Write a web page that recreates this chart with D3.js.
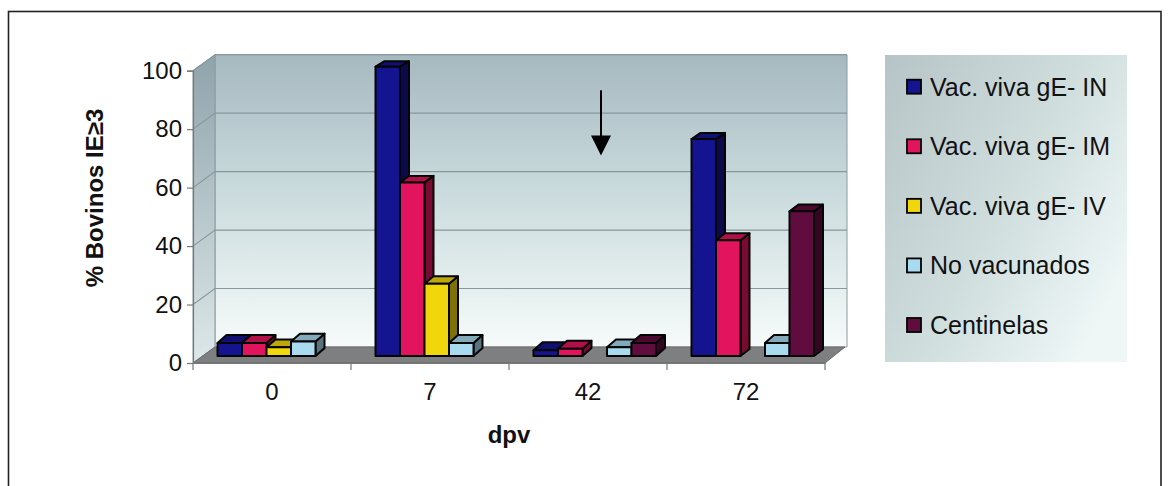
<!DOCTYPE html>
<html>
<head>
<meta charset="utf-8">
<script src="https://cdn.jsdelivr.net/npm/d3@7"></script>
<style>
  html, body { margin: 0; padding: 0; background: #ffffff; }
  svg { display: block; }
  text { font-family: "Liberation Sans", Arial, sans-serif; fill: #111; }
</style>
</head>
<body>
<svg id="chart" width="1170" height="486"></svg>
<script>
// Categories (days post vaccination) and series values (% of bovines)
const categories = ["0", "7", "42", "72"];
const seriesNames = ["Vac. viva gE- IN", "Vac. viva gE- IM", "Vac. viva gE- IV", "No vacunados", "Centinelas"];
const valuesIN   = [4.5, 100, 2, 75];
const valuesIM   = [4.5, 60, 2.5, 40];
const valuesIV   = [3, 25, 0, 0];
const valuesNV   = [5, 4.5, 3, 4.5];
const valuesCent = [0, 0, 4.5, 50];
const yTicks = [0, 20, 40, 60, 80, 100];
const seriesColors = ["#141490", "#e3145e", "#f2d60c", "#a8daf0", "#600c3e"];

const seriesValues = [valuesIN, valuesIM, valuesIV, valuesNV, valuesCent];

const svg = d3.select("#chart");
const defs = svg.append("defs");

// chart frame
svg.append("rect")
  .attr("x", 8.5).attr("y", 11.5).attr("width", 1152.5).attr("height", 490)
  .attr("fill", "#fff").attr("stroke", "#222").attr("stroke-width", 1.6);

// plot geometry
const plotLeft = 193, plotRight = 825, plotBottom = 363, plotTop = 70.7;
const depth = { dx: 22, dy: -16 };

const x0 = d3.scaleBand().domain(categories).range([plotLeft, plotRight]).paddingInner(0).paddingOuter(0);
const y = d3.scaleLinear().domain([0, 100]).range([plotBottom, plotTop]);
// bar front faces sit partway into the floor depth
const yBar = d3.scaleLinear().domain([0, 100]).range([356, 66.7]);
const groupOffset = 24.5;
const x1 = d3.scaleBand().domain(d3.range(seriesNames.length)).range([0, 24.5 * 5]).padding(0);

// gradients
const gWall = defs.append("linearGradient").attr("id", "wall").attr("x1", 0).attr("y1", 0).attr("x2", 0).attr("y2", 1);
gWall.append("stop").attr("offset", "0%").attr("stop-color", "#a6b9c0");
gWall.append("stop").attr("offset", "45%").attr("stop-color", "#c9dadc");
gWall.append("stop").attr("offset", "100%").attr("stop-color", "#f6fbfa");

const gSide = defs.append("linearGradient").attr("id", "side").attr("x1", 0).attr("y1", 0).attr("x2", 0).attr("y2", 1);
gSide.append("stop").attr("offset", "0%").attr("stop-color", "#8fa3ab");
gSide.append("stop").attr("offset", "100%").attr("stop-color", "#dde8e9");

const gLegend = defs.append("linearGradient").attr("id", "legendbg").attr("x1", 0).attr("y1", 0).attr("x2", 1).attr("y2", 0.7);
gLegend.append("stop").attr("offset", "0%").attr("stop-color", "#b6c4c7");
gLegend.append("stop").attr("offset", "55%").attr("stop-color", "#cfdddd");
gLegend.append("stop").attr("offset", "100%").attr("stop-color", "#eef6f6");

const pts = a => a.map(p => p.join(",")).join(" ");

// back wall
svg.append("polygon")
  .attr("points", pts([[plotLeft + depth.dx, plotTop + depth.dy], [plotRight + depth.dx, plotTop + depth.dy],
                       [plotRight + depth.dx, plotBottom + depth.dy], [plotLeft + depth.dx, plotBottom + depth.dy]]))
  .attr("fill", "url(#wall)").attr("stroke", "#8c9a9e").attr("stroke-width", 1);

// side wall
svg.append("polygon")
  .attr("points", pts([[plotLeft, plotBottom], [plotLeft + depth.dx, plotBottom + depth.dy],
                       [plotLeft + depth.dx, plotTop + depth.dy], [plotLeft, plotTop]]))
  .attr("fill", "url(#side)").attr("stroke", "#8c9a9e").attr("stroke-width", 1);

// gridlines on back and side walls
yTicks.filter(t => t > 0).forEach(t => {
  svg.append("polyline")
    .attr("points", pts([[plotLeft, y(t)], [plotLeft + depth.dx, y(t) + depth.dy], [plotRight + depth.dx, y(t) + depth.dy]]))
    .attr("fill", "none").attr("stroke", "#87979b").attr("stroke-width", 1.1);
});

// floor
svg.append("polygon")
  .attr("points", pts([[plotLeft, plotBottom], [plotRight, plotBottom], [plotRight + depth.dx - 2, plotBottom + depth.dy], [plotLeft + depth.dx, plotBottom + depth.dy]]))
  .attr("fill", "#7e7f80").attr("stroke", "#6a6a6a").attr("stroke-width", 1);

// value axis
const yAxis = d3.axisLeft(y).tickValues(yTicks).tickSize(6).tickPadding(5);
const gy = svg.append("g").attr("transform", `translate(${plotLeft},0)`).call(yAxis);
gy.select(".domain").attr("stroke", "#777").attr("stroke-width", 1.2);
gy.selectAll(".tick line").attr("stroke", "#777").attr("stroke-width", 1.2);
gy.selectAll(".tick text").attr("font-size", 24).attr("fill", "#111")
  .attr("font-family", "'Liberation Sans', Arial, sans-serif");

// category axis
const xAxis = d3.axisBottom(x0).tickSize(0).tickPadding(20);
const gx = svg.append("g").attr("transform", `translate(0,${plotBottom})`).call(xAxis);
gx.select(".domain").attr("stroke", "#777").attr("stroke-width", 1.2);
gx.selectAll(".tick text").attr("font-size", 24).attr("fill", "#111")
  .attr("font-family", "'Liberation Sans', Arial, sans-serif");
// tick marks between categories
const boundaries = categories.map(c => x0(c) + x0.bandwidth()).concat([plotLeft]);
gx.selectAll(".sep").data(boundaries).enter().append("line")
  .attr("x1", d => d).attr("x2", d => d).attr("y1", 0).attr("y2", 7)
  .attr("stroke", "#777").attr("stroke-width", 1.2);

// shading helpers
const shade = (c, k) => d3.color(c).darker(k).formatHex();

// 3D bars
const barsG = svg.append("g");
categories.forEach((cat, ci) => {
  seriesValues.forEach((vals, si) => {
    const v = vals[ci];
    if (!v) return;
    const xl = x0(cat) + groupOffset + x1(si);
    const w = x1.bandwidth();
    const yt = yBar(v), yb = yBar(0);
    const dx = 9, dy = -(5.5 + 2.5 * (1 - v / 100));
    const col = seriesColors[si];
    const g = barsG.append("g").attr("stroke", "#050505").attr("stroke-width", 2).attr("stroke-linejoin", "round");
    // right side
    g.append("polygon")
      .attr("points", pts([[xl + w, yt], [xl + w + dx, yt + dy], [xl + w + dx, yb + dy], [xl + w, yb]]))
      .attr("fill", shade(col, 1.8));
    // top
    g.append("polygon")
      .attr("points", pts([[xl, yt], [xl + w, yt], [xl + w + dx, yt + dy], [xl + dx, yt + dy]]))
      .attr("fill", shade(col, 0.7));
    // front
    g.append("rect")
      .attr("x", xl).attr("y", yt).attr("width", w).attr("height", yb - yt)
      .attr("fill", col);
  });
});

// arrow marking day 42
const ax = x0("42") + x0.bandwidth() / 2 + 13;
const arrowTop = y(93.3), arrowTip = y(71);
svg.append("line")
  .attr("x1", ax).attr("x2", ax).attr("y1", arrowTop).attr("y2", arrowTip - 14)
  .attr("stroke", "#000").attr("stroke-width", 2);
svg.append("polygon")
  .attr("points", pts([[ax - 10, arrowTip - 20], [ax + 10, arrowTip - 20], [ax, arrowTip]]))
  .attr("fill", "#000");

// axis titles
svg.append("text")
  .attr("transform", `translate(103,198) rotate(-90)`)
  .attr("text-anchor", "middle").attr("font-size", 24).attr("font-weight", "bold")
  .text("% Bovinos IE≥3");
svg.append("text")
  .attr("x", (plotLeft + plotRight) / 2).attr("y", 443)
  .attr("text-anchor", "middle").attr("font-size", 24).attr("font-weight", "bold")
  .text("dpv");

// legend
const legend = svg.append("g");
legend.append("rect")
  .attr("x", 885).attr("y", 55).attr("width", 242).attr("height", 307)
  .attr("fill", "url(#legendbg)");
const ly = d3.scalePoint().domain(seriesNames).range([86.7, 325]);
seriesNames.forEach((name, i) => {
  legend.append("rect")
    .attr("x", 907).attr("y", ly(name) - 7).attr("width", 14).attr("height", 14)
    .attr("fill", seriesColors[i]).attr("stroke", "#000").attr("stroke-width", 1.8);
  legend.append("text")
    .attr("x", 930).attr("y", ly(name) + 9)
    .attr("font-size", 25).text(name);
});
</script>
</body>
</html>
